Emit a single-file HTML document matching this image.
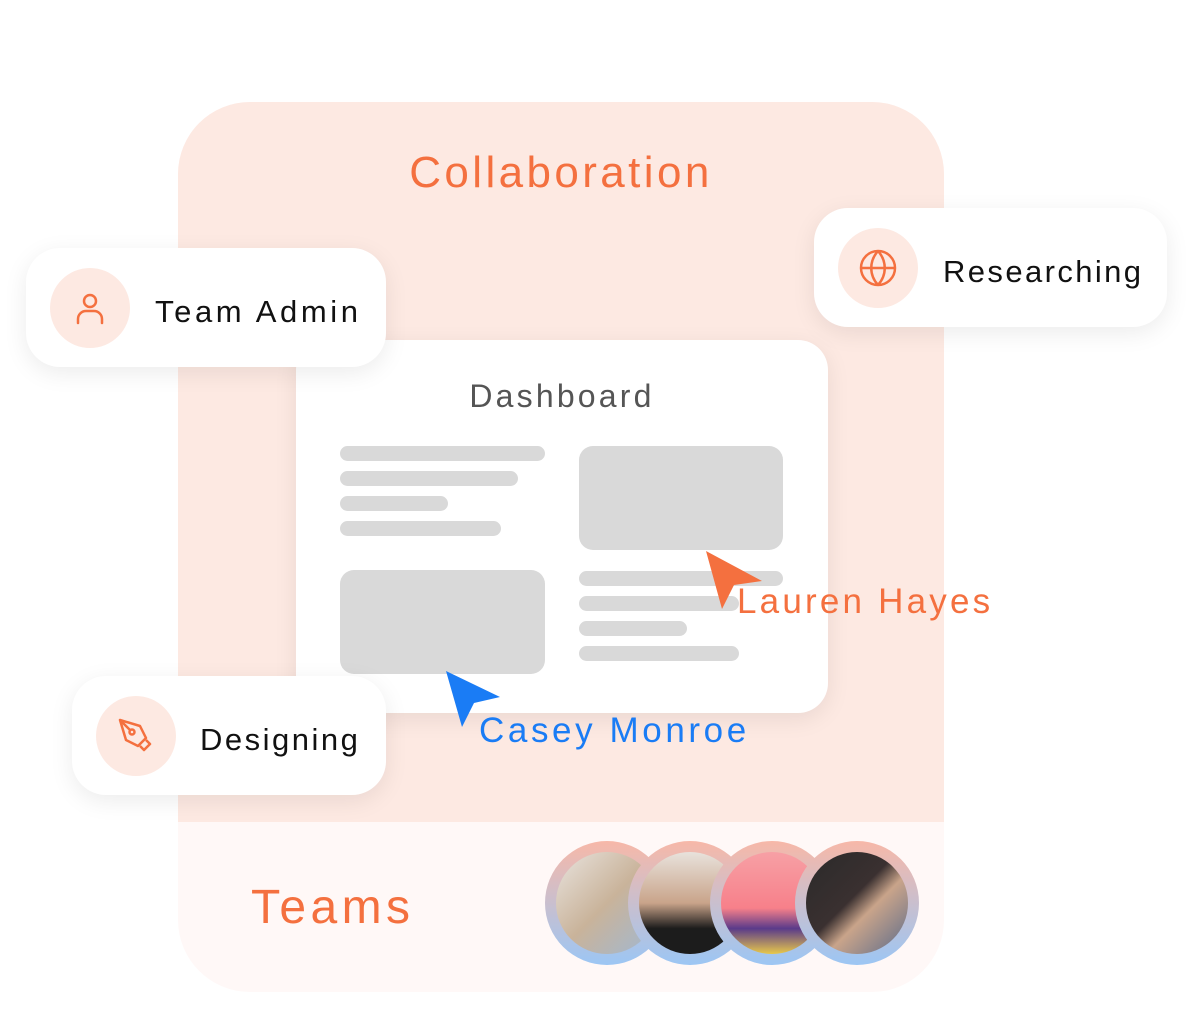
<!DOCTYPE html>
<html><head><style>
body{margin:0;width:1193px;height:1034px;background:#fff;position:relative;overflow:hidden;font-family:"Liberation Sans",sans-serif}
.a{position:absolute}
.card{position:absolute;background:#fff;border-radius:34px;box-shadow:0 6px 24px rgba(0,0,0,0.08)}
.ic{position:absolute;width:80px;height:80px;border-radius:50%;background:#fde9e2}
.lbl{position:absolute;font-size:31px;color:#111}
.bar{position:absolute;background:#d9d9d9;border-radius:8px;height:15px}
.blk{position:absolute;background:#d9d9d9;border-radius:14px}
.av{position:absolute;width:124px;height:124px;border-radius:50%;background:linear-gradient(#f7b8a8,#9cc6f4)}
.av div{position:absolute;left:11px;top:11px;width:102px;height:102px;border-radius:50%}
</style></head><body>
<div class="a" style="left:178px;top:102px;width:766px;height:890px;border-radius:72px;background:#fff8f7;overflow:hidden">
 <div class="a" style="left:0;top:0;width:766px;height:720px;background:#fde9e2"></div>
</div>
<div class="a" style="left:178px;top:148px;width:766px;text-align:center;font-size:44px;color:#f4703f;letter-spacing:3.4px">Collaboration</div>
<div class="card" style="left:296px;top:340px;width:532px;height:373px;border-radius:30px"></div>
<div class="a" style="left:296px;top:378px;width:532px;text-align:center;font-size:32px;color:#555;letter-spacing:3.2px">Dashboard</div>
<div class="bar" style="left:340px;top:446px;width:205px"></div>
<div class="bar" style="left:340px;top:471px;width:178px"></div>
<div class="bar" style="left:340px;top:496px;width:108px"></div>
<div class="bar" style="left:340px;top:521px;width:161px"></div>
<div class="blk" style="left:579px;top:446px;width:204px;height:104px"></div>
<div class="blk" style="left:340px;top:570px;width:205px;height:104px"></div>
<div class="bar" style="left:579px;top:571px;width:204px"></div>
<div class="bar" style="left:579px;top:596px;width:160px"></div>
<div class="bar" style="left:579px;top:621px;width:108px"></div>
<div class="bar" style="left:579px;top:646px;width:160px"></div>
<svg class="a" style="left:700px;top:545px" width="70" height="70"><polygon points="6,6 62,36 34,40 22,64" fill="#f4703f"/></svg>
<div class="a" style="left:737px;top:582px;font-size:35px;color:#f4703f;letter-spacing:3.2px">Lauren Hayes</div>
<svg class="a" style="left:440px;top:665px" width="70" height="70"><polygon points="6,6 60,32 34,38 22,62" fill="#1a7cf5"/></svg>
<div class="a" style="left:479px;top:711px;font-size:35px;color:#1a7cf5;letter-spacing:3.6px">Casey Monroe</div>

<div class="card" style="left:26px;top:248px;width:360px;height:119px"></div>
<div class="ic" style="left:50px;top:268px"></div>
<svg class="a" style="left:70px;top:288px" width="40" height="40" fill="none" stroke="#f4703f" stroke-width="2.5" stroke-linecap="round"><circle cx="20" cy="13" r="6"/><path d="M8 35v-4a8 8 0 0 1 8-8h8a8 8 0 0 1 8 8v4"/></svg>
<div class="lbl" style="left:155px;top:294px;letter-spacing:3.6px">Team Admin</div>

<div class="card" style="left:814px;top:208px;width:353px;height:119px"></div>
<div class="ic" style="left:838px;top:228px"></div>
<svg class="a" style="left:858px;top:248px" width="40" height="40" fill="none" stroke="#f4703f" stroke-width="2.5"><circle cx="20" cy="20" r="17"/><path d="M3 20h34M20 3c-9 10-9 24 0 34M20 3c9 10 9 24 0 34"/></svg>
<div class="lbl" style="left:943px;top:254px;letter-spacing:2.4px">Researching</div>

<div class="card" style="left:72px;top:676px;width:314px;height:119px"></div>
<div class="ic" style="left:96px;top:696px"></div>
<svg class="a" style="left:116px;top:716px" width="40" height="40" fill="none" stroke="#f4703f" stroke-width="2.5" stroke-linejoin="round"><path d="M4 4l20 6 6 12-8 8-12-6z"/><circle cx="16" cy="16" r="2.5"/><path d="M4 4l10 10M24 30l4 4 6-6-4-4"/></svg>
<div class="lbl" style="left:200px;top:722px;letter-spacing:2.5px">Designing</div>

<div class="a" style="left:251px;top:880px;font-size:48px;color:#f4703f;letter-spacing:4.4px">Teams</div>
<div class="av" style="left:545px;top:841px"><div style="background:linear-gradient(135deg,#e9e4df,#c9b39a 50%,#9fb8d4)"></div></div>
<div class="av" style="left:628px;top:841px"><div style="background:linear-gradient(#e8e2dc 0%,#c9a48a 50%,#1c1c1c 75%)"></div></div>
<div class="av" style="left:710px;top:841px"><div style="background:linear-gradient(#f7a0a5,#f7808a 55%,#5a3a8a 75%,#e8c84a)"></div></div>
<div class="av" style="left:795px;top:841px"><div style="background:linear-gradient(135deg,#2a2a2a,#3a3030 45%,#c9a48a 60%,#5a6a8a)"></div></div>
</body></html>
